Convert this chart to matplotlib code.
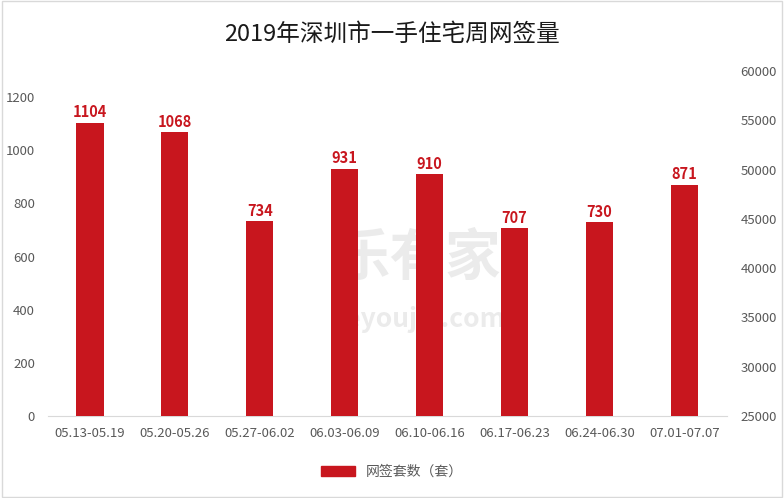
import matplotlib.pyplot as plt
from matplotlib.patches import Rectangle

plt.rcParams['font.family'] = ['Noto Sans CJK SC', 'DejaVu Sans']

# Chart data
weeks = ["05.13-05.19", "05.20-05.26", "05.27-06.02", "06.03-06.09",
         "06.10-06.16", "06.17-06.23", "06.24-06.30", "07.01-07.07"]
units = [1104, 1068, 734, 931, 910, 707, 730, 871]
left_ticks = [0, 200, 400, 600, 800, 1000, 1200]
right_ticks = [25000, 30000, 35000, 40000, 45000, 50000, 55000, 60000]

BAR_COLOR = "#C8161E"
TICK_COLOR = "#595959"

fig = plt.figure(figsize=(7.84, 4.98), dpi=100)
ax = fig.add_axes([0.0606, 0.1647, 0.8664, 0.6926])
ax2 = ax.twinx()

x = list(range(len(weeks)))
ax.bar(x, units, width=0.32, color=BAR_COLOR, zorder=3)
for xi, v in zip(x, units):
    ax.text(xi, v + 8, str(v), ha="center", va="bottom", color=BAR_COLOR,
            fontsize=10.5, fontweight="bold", zorder=4)

ax.set_xlim(-0.5, len(weeks) - 0.5)
ax.set_ylim(0, 1298)
ax.set_yticks(left_ticks)
ax.set_xticks(x)
ax.set_xticklabels(weeks)
ax2.set_ylim(25000, 60000)
ax2.set_yticks(right_ticks)

for a in (ax, ax2):
    for s in a.spines.values():
        s.set_visible(False)
    a.tick_params(length=0, colors=TICK_COLOR, labelsize=9.5)
ax.spines["bottom"].set_visible(True)
ax.spines["bottom"].set_color("#D9D9D9")
ax.tick_params(axis="y", pad=9)
ax.tick_params(axis="x", pad=8)
ax2.tick_params(axis="y", pad=10)

# faint watermark, behind the bars
ax.text(0.545, 0.455, "乐有家", transform=ax.transAxes, fontsize=40, color="#EBEBEB",
        ha="center", va="center", fontweight="bold", zorder=1)
ax.text(0.545, 0.28, "Leyoujia.com", transform=ax.transAxes, fontsize=19, color="#EBEBEB",
        ha="center", va="center", fontweight="bold", zorder=1)

fig.suptitle("2019年深圳市一手住宅周网签量", fontsize=17, y=0.955, color="#1a1a1a")

# legend
handle = Rectangle((0, 0), 1, 1, color=BAR_COLOR)
fig.legend([handle], ["网签套数（套）"], loc="center", bbox_to_anchor=(0.5, 0.052),
           frameon=False, fontsize=10, handlelength=2.4, handleheight=0.7,
           labelcolor=TICK_COLOR)

# figure border
fig.patches.append(Rectangle((0.002, 0.002), 0.996, 0.996, transform=fig.transFigure,
                             fill=False, edgecolor="#D9D9D9", linewidth=1))

fig.savefig("out.png", dpi=100)
